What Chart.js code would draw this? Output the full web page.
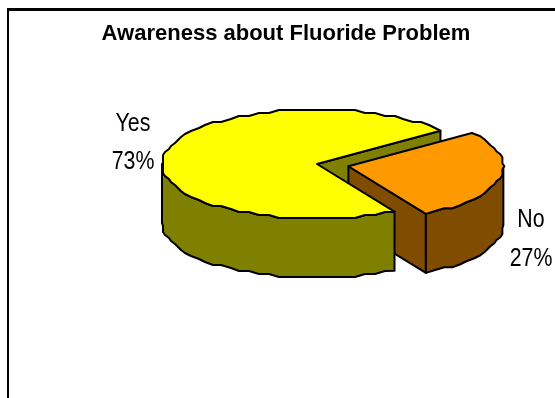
<!DOCTYPE html>
<html>
<head>
<meta charset="utf-8">
<style>
  html, body { margin: 0; padding: 0; background: #fff; }
  canvas { display: block; }
</style>
<script src="https://cdn.jsdelivr.net/npm/chart.js@4"></script>
</head>
<body>
<canvas id="myChart" width="555" height="398"></canvas>
<script>
const categories = ["Yes", "No"];
const values = [73, 27];
const topColors = ["#FFFF00", "#FF9900"];
const sideColors = ["#808000", "#804C00"];

// pie look: where the centre goes, how flat it is and how thick
const pieX = 317;
const pieY = 164;
const pieRadius = 155;
const tilt = 0.355;
const depth = 59;

// rim is a coarse polygon snapped to a grid, that gives the stepped edge
const rimStep = (4 * Math.PI) / 180;
const rimGridX = 2;
const rimGridY = 3;

// label anchors (alphabetic baseline), name line then percent line
const labelSpots = [
  { x: 133, y: 131, y2: 169 },
  { x: 531, y: 227, y2: 266 },
];

const ell = (arc) => {
  const { startAngle, endAngle, outerRadius, options } = arc;
  const circ = endAngle - startAngle;
  const mid = (startAngle + endAngle) / 2;
  // same shift ArcElement applies when it draws an offset slice
  const shift = ((options.offset || 0) / 4) * (2 - Math.sin(Math.min(Math.PI, circ)));
  return {
    cx: pieX + Math.cos(mid) * shift,
    cy: pieY + Math.sin(mid) * shift * tilt,
    rx: outerRadius,
    ry: outerRadius * tilt,
    startAngle,
    endAngle,
  };
};

const pt = (e, angle, down) => [
  e.cx + Math.cos(angle) * e.rx,
  e.cy + Math.sin(angle) * e.ry + down,
];

const snap = (v, grid) => Math.round(v / grid) * grid;

// points along the rim from a0 to a1, both ends stay exact
const rim = (e, a0, a1, down) => {
  const dir = a1 > a0 ? 1 : -1;
  const pts = [pt(e, a0, down)];
  const first = Math.ceil(a0 / rimStep + dir * 0.5) * rimStep;
  const n = Math.floor(Math.abs(a1 - a0) / rimStep);
  for (let i = 0; i <= n; i++) {
    const a = dir > 0 ? first + i * rimStep : Math.floor(a0 / rimStep - 0.5) * rimStep - i * rimStep;
    if ((a - a1) * dir >= 0) break;
    pts.push([
      e.cx + snap(Math.cos(a) * e.rx, rimGridX),
      e.cy + snap(Math.sin(a) * e.ry, rimGridY) + down,
    ]);
  }
  pts.push(pt(e, a1, down));
  return pts;
};

const trace = (ctx, pts) => {
  pts.forEach((p, i) => (i ? ctx.lineTo(p[0], p[1]) : ctx.moveTo(p[0], p[1])));
};

const slicePath = (ctx, e) => {
  trace(ctx, [[e.cx, e.cy], ...rim(e, e.startAngle, e.endAngle, 0)]);
  ctx.closePath();
};

const paint = (ctx, fill) => {
  ctx.closePath();
  ctx.fillStyle = fill;
  ctx.fill();
  ctx.stroke();
};

// flat face left by the cut at the end of a slice
const drawFace = (ctx, e, fill) => {
  const p = pt(e, e.endAngle, 0);
  ctx.beginPath();
  trace(ctx, [[e.cx, e.cy], p, [p[0], p[1] + depth], [e.cx, e.cy + depth]]);
  paint(ctx, fill);
};

// rounded outer wall, only the part facing the viewer
const drawWall = (ctx, e, fill) => {
  const TAU = Math.PI * 2;
  for (let k = -1; k <= 1; k++) {
    const a0 = Math.max(e.startAngle + k * TAU, 0);
    const a1 = Math.min(e.endAngle + k * TAU, Math.PI);
    if (a1 <= a0) continue;
    ctx.beginPath();
    trace(ctx, [...rim(e, a0, a1, 0), ...rim(e, a1, a0, depth)]);
    paint(ctx, fill);
  }
};

const pie3d = {
  id: "pie3d",
  beforeDraw(chart) {
    const { ctx } = chart;
    ctx.save();
    ctx.strokeStyle = "#000";
    ctx.lineWidth = 3;
    ctx.beginPath();
    ctx.moveTo(555, 9.5);
    ctx.lineTo(7, 9.5);
    ctx.stroke();
    ctx.lineWidth = 2;
    ctx.beginPath();
    ctx.moveTo(8, 8);
    ctx.lineTo(8, 398);
    ctx.stroke();
    ctx.restore();
  },
  beforeDatasetsDraw(chart) {
    const { ctx } = chart;
    const arcs = chart.getDatasetMeta(0).data.map(ell);
    ctx.save();
    ctx.strokeStyle = "#000";
    ctx.lineWidth = 2;
    ctx.lineJoin = "round";
    arcs.forEach((e, i) => drawFace(ctx, e, sideColors[i]));
    for (let i = arcs.length - 1; i >= 0; i--) {
      drawWall(ctx, arcs[i], sideColors[i]);
    }
    ctx.restore();
  },
  // the library paints the slices, squashed into ellipses and held inside the rim
  beforeDatasetDraw(chart) {
    const { ctx } = chart;
    const meta = chart.getDatasetMeta(0);
    const first = meta.data[0];
    ctx.save();
    ctx.beginPath();
    meta.data.map(ell).forEach((e) => slicePath(ctx, e));
    ctx.clip();
    ctx.translate(pieX, pieY);
    ctx.scale(1, tilt);
    ctx.translate(-first.x, -first.y);
  },
  afterDatasetDraw(chart) {
    const { ctx } = chart;
    ctx.restore();
    ctx.save();
    ctx.strokeStyle = "#000";
    ctx.lineWidth = 2;
    ctx.lineJoin = "round";
    chart.getDatasetMeta(0).data.map(ell).forEach((e, i) => {
      ctx.beginPath();
      slicePath(ctx, e);
      ctx.fillStyle = topColors[i];
      ctx.fill();
      ctx.stroke();
    });
    ctx.restore();
  },
  afterDraw(chart) {
    const { ctx } = chart;
    ctx.save();
    ctx.fillStyle = "#000";
    ctx.font = '26px "Liberation Sans"';
    ctx.textAlign = "center";
    ctx.textBaseline = "alphabetic";
    const squeeze = 0.82;
    categories.forEach((name, i) => {
      const spot = labelSpots[i];
      ctx.save();
      ctx.translate(spot.x, 0);
      ctx.scale(squeeze, 1);
      ctx.fillText(name, 0, spot.y);
      ctx.fillText(`${values[i]}%`, 0, spot.y2);
      ctx.restore();
    });
    ctx.restore();
  },
};

const myChart = new Chart(document.getElementById("myChart"), {
  type: "pie",
  data: {
    labels: categories,
    datasets: [
      {
        data: values,
        backgroundColor: topColors,
        borderWidth: 0,
        offset: [0, 127],
        clip: false,
      },
    ],
  },
  options: {
    responsive: false,
    animation: false,
    rotation: 150,
    radius: pieRadius,
    layout: { padding: { left: 17 } },
    plugins: {
      legend: { display: false },
      tooltip: { enabled: false },
      title: {
        display: true,
        text: "Awareness about Fluoride Problem",
        color: "#000",
        font: { family: '"Liberation Sans"', size: 22, weight: "bold" },
        padding: { top: 21, bottom: 0 },
      },
    },
  },
  plugins: [pie3d],
});
</script>
</body>
</html>
